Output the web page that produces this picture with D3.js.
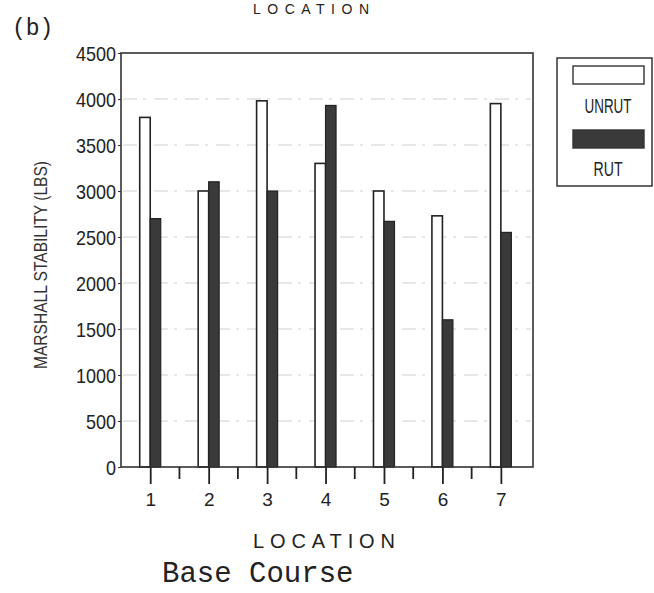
<!DOCTYPE html>
<html>
<head>
<meta charset="utf-8">
<script src="https://cdn.jsdelivr.net/npm/d3@7"></script>
<style>
  html, body { margin: 0; padding: 0; background: #fff; }
  svg { display: block; }
</style>
</head>
<body>
<svg id="chart" width="654" height="593"></svg>
<script>
// Marshall stability of base course cores, unrutted vs rutted sections
const locations = [1, 2, 3, 4, 5, 6, 7];
const unrutValues = [3800, 3000, 3980, 3300, 3000, 2730, 3950];
const rutValues = [2700, 3100, 3000, 3930, 2670, 1600, 2550];
const yTicks = [0, 500, 1000, 1500, 2000, 2500, 3000, 3500, 4000, 4500];
const seriesNames = ["UNRUT", "RUT"];

const svg = d3.select("#chart");
const sans = "'Liberation Sans', Arial, sans-serif";
const mono = "'Liberation Mono', 'DejaVu Sans Mono', monospace";

const plot = { left: 121, right: 533, top: 53, bottom: 467 };

const x = d3.scaleLinear().domain([0.5, 7.55]).range([plot.left, plot.right]);
const y = d3.scaleLinear().domain([0, 4500]).range([plot.bottom, plot.top]);
const barW = 10.5;

// faint dashed grid
svg.append("g")
  .selectAll("line")
  .data(yTicks.filter(d => d > 0 && d < 4500))
  .join("line")
  .attr("x1", plot.left + 2).attr("x2", plot.right - 2)
  .attr("y1", d => y(d)).attr("y2", d => y(d))
  .attr("stroke", "#cfcfcf")
  .attr("stroke-width", 1)
  .attr("stroke-dasharray", "14,6,3,8");

// bars
const rows = locations.map((loc, i) => ({ loc, unrut: unrutValues[i], rut: rutValues[i] }));
const bars = svg.append("g");
bars.selectAll("rect.unrut").data(rows).join("rect")
  .attr("class", "unrut")
  .attr("x", d => x(d.loc) - barW)
  .attr("y", d => y(d.unrut))
  .attr("width", barW)
  .attr("height", d => y(0) - y(d.unrut))
  .attr("fill", "#fff").attr("stroke", "#222").attr("stroke-width", 1.6);
bars.selectAll("rect.rut").data(rows).join("rect")
  .attr("class", "rut")
  .attr("x", d => x(d.loc))
  .attr("y", d => y(d.rut))
  .attr("width", barW)
  .attr("height", d => y(0) - y(d.rut))
  .attr("fill", "#3a3a3a").attr("stroke", "#222").attr("stroke-width", 1.2);

// plot frame
svg.append("rect")
  .attr("x", plot.left).attr("y", plot.top)
  .attr("width", plot.right - plot.left).attr("height", plot.bottom - plot.top)
  .attr("fill", "none").attr("stroke", "#333").attr("stroke-width", 1.6);

// y axis with condensed digits
const yAxis = svg.append("g")
  .attr("transform", `translate(${plot.left},0)`)
  .call(d3.axisLeft(y).tickValues(yTicks).tickSize(3).tickPadding(2).tickFormat(d3.format("d")));
yAxis.select(".domain").remove();
yAxis.selectAll("line").attr("stroke", "#333");
yAxis.selectAll("text")
  .attr("font-family", sans).attr("font-size", 21).attr("fill", "#222")
  .attr("dy", "0.36em")
  .attr("lengthAdjust", "spacingAndGlyphs")
  .attr("textLength", d => String(d).length * 10);

// x axis: major ticks at locations, minor ticks between
const xAxis = svg.append("g")
  .attr("transform", `translate(0,${plot.bottom})`)
  .call(d3.axisBottom(x).tickValues(locations).tickSize(17).tickPadding(9).tickFormat(d3.format("d")));
xAxis.select(".domain").remove();
xAxis.selectAll("line").attr("stroke", "#222").attr("stroke-width", 1.8);
xAxis.selectAll("text")
  .attr("font-family", sans).attr("font-size", 19).attr("fill", "#222");
svg.append("g").selectAll("line")
  .data(locations.slice(0, -1).map(d => d + 0.5))
  .join("line")
  .attr("x1", d => x(d)).attr("x2", d => x(d))
  .attr("y1", plot.bottom).attr("y2", plot.bottom + 12)
  .attr("stroke", "#222").attr("stroke-width", 1.8);

// y axis title
svg.append("text")
  .attr("transform", `translate(47,${(plot.top + plot.bottom) / 2 + 5}) rotate(-90)`)
  .attr("text-anchor", "middle")
  .attr("font-family", sans).attr("font-size", 19).attr("fill", "#333")
  .attr("lengthAdjust", "spacingAndGlyphs").attr("textLength", 208)
  .text("MARSHALL STABILITY (LBS)");

// x axis title
svg.append("text")
  .attr("x", 253).attr("y", 548)
  .attr("font-family", sans).attr("font-size", 20)
  .attr("fill", "#222")
  .attr("lengthAdjust", "spacing").attr("textLength", 142)
  .text("LOCATION");

// caption
svg.append("text")
  .attr("x", 162).attr("y", 582)
  .attr("font-family", mono).attr("font-size", 29)
  .attr("fill", "#222")
  .text("Base Course");

// panel label and the title of the panel above
svg.append("text")
  .attr("x", 12).attr("y", 35)
  .attr("font-family", mono).attr("font-size", 23)
  .attr("fill", "#222")
  .text("(b)");
svg.append("text")
  .attr("x", 253).attr("y", 14)
  .attr("font-family", sans).attr("font-size", 14)
  .attr("fill", "#222")
  .attr("lengthAdjust", "spacing").attr("textLength", 116)
  .text("LOCATION");

// legend
const legend = svg.append("g");
legend.append("rect")
  .attr("x", 557).attr("y", 58).attr("width", 95).attr("height", 128)
  .attr("fill", "#fff").attr("stroke", "#333").attr("stroke-width", 1.5);
const legendFills = ["#fff", "#3a3a3a"];
const legendLengths = [47, 29];
seriesNames.forEach((name, i) => {
  legend.append("rect")
    .attr("x", 573).attr("y", 66 + i * 64).attr("width", 71).attr("height", 18)
    .attr("fill", legendFills[i]).attr("stroke", "#333").attr("stroke-width", 1.4);
  legend.append("text")
    .attr("x", 608).attr("y", 113 + i * 63)
    .attr("text-anchor", "middle")
    .attr("font-family", sans).attr("font-size", 20).attr("fill", "#222")
    .attr("lengthAdjust", "spacingAndGlyphs").attr("textLength", legendLengths[i])
    .text(name);
});
</script>
</body>
</html>
